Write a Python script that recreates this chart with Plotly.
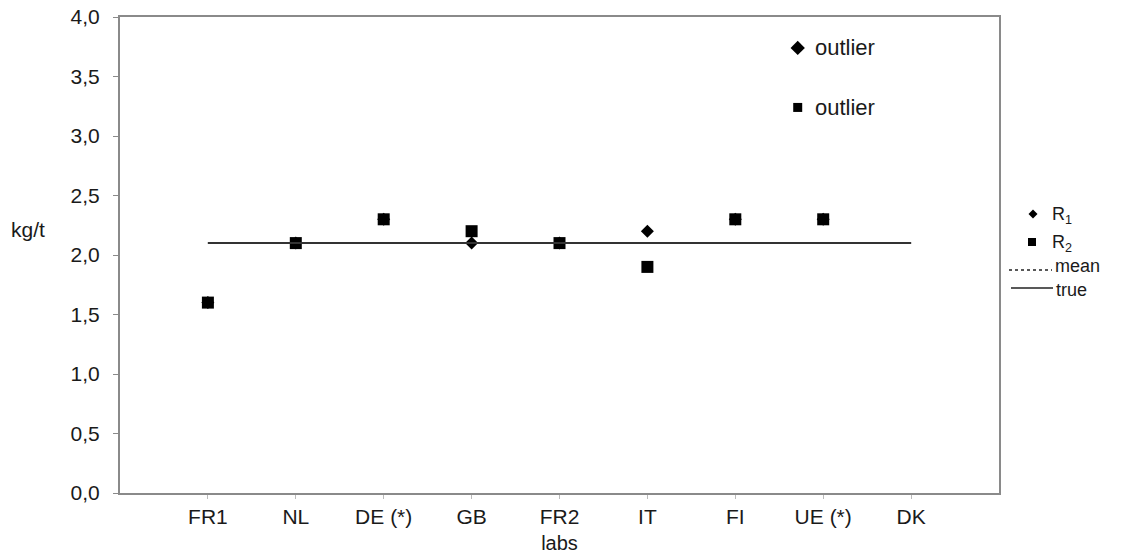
import plotly.graph_objects as go

labs = ["FR1", "NL", "DE (*)", "GB", "FR2", "IT", "FI", "UE (*)", "DK"]
pos = [1, 2, 3, 4, 5, 6, 7, 8, 9]
r1 = [1.6, 2.1, 2.3, 2.1, 2.1, 2.2, 2.3, 2.3, None]
r2 = [1.6, 2.1, 2.3, 2.2, 2.1, 1.9, 2.3, 2.3, None]
true_value = 2.1
mean_value = 2.1
yticks = [0, 0.5, 1.0, 1.5, 2.0, 2.5, 3.0, 3.5, 4.0]
ytick_text = ["0,0", "0,5", "1,0", "1,5", "2,0", "2,5", "3,0", "3,5", "4,0"]

FONT = "Liberation Sans, Arial, sans-serif"
AX = "#8a8a8a"
TXT = "#1a1a1a"

# page offset of the figure (browser body margin) and target plot box in page pixels
S = 7
W, H = 1123, 555
BOX_L, BOX_T, BOX_R, BOX_B = 119, 16, 998, 492
L, T = BOX_L - S, BOX_T - S
R, B = W - (BOX_R - S), H - (BOX_B - S)
PW, PH = W - L - R, H - T - B

def fx(px):
    return (px - BOX_L) / PW
def fy(py):
    return (BOX_B - py) / PH

fig = go.Figure()
fig.add_trace(go.Scatter(x=pos, y=r1, mode="markers", name="R1", showlegend=False,
                         marker=dict(symbol="diamond", size=10, color="black")))
fig.add_trace(go.Scatter(x=pos, y=r2, mode="markers", name="R2", showlegend=False,
                         marker=dict(symbol="square", size=12, color="black")))
fig.add_trace(go.Scatter(x=[pos[0], pos[-1]], y=[mean_value, mean_value], mode="lines",
                         name="mean", showlegend=False,
                         line=dict(color="#222", width=2, dash="3px,3px")))
fig.add_trace(go.Scatter(x=[pos[0], pos[-1]], y=[true_value, true_value], mode="lines",
                         name="true", showlegend=False, line=dict(color="#333", width=2)))
# in-plot outlier key markers
fig.add_trace(go.Scatter(x=[7.71], y=[3.74], mode="markers", showlegend=False,
                         marker=dict(symbol="diamond", size=11, color="black")))
fig.add_trace(go.Scatter(x=[7.71], y=[3.24], mode="markers", showlegend=False,
                         marker=dict(symbol="square", size=9, color="black")))

shapes = []
def diamond(cx, cy, s):
    h = s / 2
    return dict(type="path", xref="paper", yref="paper", xsizemode="pixel", ysizemode="pixel",
                xanchor=fx(cx), yanchor=fy(cy),
                path=f"M0,{h} L{h},0 L0,{-h} L{-h},0 Z", fillcolor="black", line=dict(width=0))
def square(cx, cy, s):
    h = s / 2
    return dict(type="path", xref="paper", yref="paper", xsizemode="pixel", ysizemode="pixel",
                xanchor=fx(cx), yanchor=fy(cy),
                path=f"M{-h},{-h} L{h},{-h} L{h},{h} L{-h},{h} Z", fillcolor="black", line=dict(width=0))
shapes.append(diamond(1032, 213, 9))
shapes.append(square(1031, 241, 8))
shapes.append(dict(type="line", xref="paper", yref="paper", x0=fx(1008), x1=fx(1051),
                   y0=fy(269), y1=fy(269), line=dict(color="#222", width=1.5, dash="3px,3px")))
shapes.append(dict(type="line", xref="paper", yref="paper", x0=fx(1010), x1=fx(1052),
                   y0=fy(287), y1=fy(287), line=dict(color="#222", width=1.5)))

def ann(text, px, py, size=18, xanchor="left"):
    return dict(text=text, xref="paper", yref="paper", x=fx(px), y=fy(py), xanchor=xanchor,
                yanchor="middle", showarrow=False, font=dict(size=size, color=TXT, family=FONT))

annotations = [
    ann("R<sub>1</sub>", 1049, 215),
    ann("R<sub>2</sub>", 1049, 242),
    ann("mean", 1052, 265),
    ann("true", 1053, 289),
    ann("kg/t", 8, 228, size=21),
    dict(text="outlier", xref="x", yref="y", x=7.71, y=3.74, xshift=15, xanchor="left",
         yanchor="middle", showarrow=False, font=dict(size=22, color=TXT, family=FONT)),
    dict(text="outlier", xref="x", yref="y", x=7.71, y=3.24, xshift=15, xanchor="left",
         yanchor="middle", showarrow=False, font=dict(size=22, color=TXT, family=FONT)),
]

fig.update_layout(
    width=W, height=H,
    margin=dict(l=L, r=R, t=T, b=B, autoexpand=False),
    paper_bgcolor="white", plot_bgcolor="white",
    font=dict(family=FONT, size=20, color=TXT),
    showlegend=False,
    xaxis=dict(range=[0, 10], tickvals=pos, ticktext=labs, showgrid=False, zeroline=False,
               showline=True, linecolor=AX, linewidth=2, mirror=True,
               ticks="outside", ticklen=4, tickcolor="#bbb", tickwidth=1,
               title=dict(text="labs", font=dict(size=20), standoff=9),
               tickfont=dict(size=21)),
    yaxis=dict(range=[0, 4], tickvals=yticks, ticktext=ytick_text, showgrid=False,
               zeroline=False, showline=True, linecolor=AX, linewidth=2, mirror=True,
               ticks="outside", ticklen=5, tickcolor=AX, tickwidth=1,
               ticklabelstandoff=9, ticklabeloverflow="allow", tickfont=dict(size=21)),
    shapes=shapes,
    annotations=annotations,
)

fig.write_html("out.html")
